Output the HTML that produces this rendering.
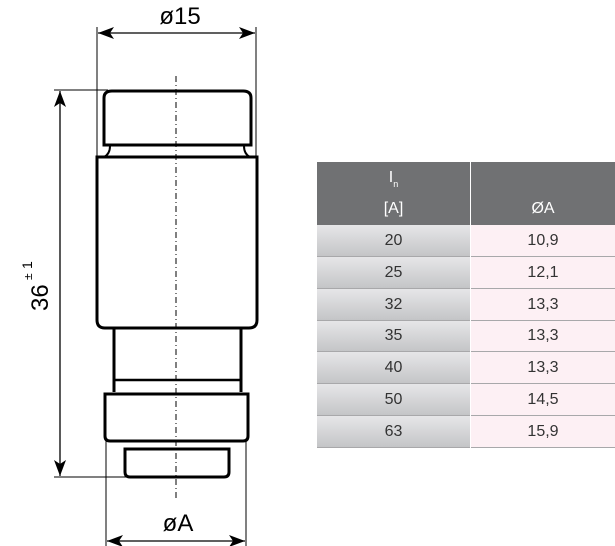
<!DOCTYPE html>
<html><head><style>
html,body{margin:0;padding:0;background:#fff;}
body{width:615px;height:546px;position:relative;overflow:hidden;font-family:"Liberation Sans","DejaVu Sans",sans-serif;}
svg{position:absolute;left:0;top:0;}
.c{position:absolute;box-sizing:border-box;text-align:center;font-family:"Liberation Sans Narrow","Liberation Sans",sans-serif;font-size:16px;color:#333;}
.h{background:#707173;color:#fff;}
.l{left:317px;width:153px;background:linear-gradient(#e6e6e8,#c4c5c7);border-bottom:1px solid #a8a8aa;}
.r{left:471px;width:144px;background:#fdf0f4;border-bottom:1px solid #a8a8aa;}
</style></head><body>
<svg width="615" height="546" viewBox="0 0 615 546">
<defs>
<marker id="a" markerWidth="16" markerHeight="12" refX="16" refY="6" orient="auto-start-reverse" markerUnits="userSpaceOnUse"><path d="M0,0 L16,6 L0,12 L4,6z" fill="#000"/></marker>
</defs>
<g stroke="#000" fill="none">
<line x1="97" y1="27" x2="97" y2="158" stroke-width="1"/>
<line x1="256" y1="27" x2="256" y2="158" stroke-width="1"/>
<line x1="98" y1="33" x2="255" y2="33" stroke-width="1.3" marker-start="url(#a)" marker-end="url(#a)"/>
<line x1="54" y1="90" x2="108" y2="90" stroke-width="1"/>
<line x1="54" y1="477" x2="126" y2="477" stroke-width="1"/>
<line x1="60" y1="91" x2="60" y2="476" stroke-width="1.3" marker-start="url(#a)" marker-end="url(#a)"/>
<line x1="106" y1="440" x2="106" y2="546" stroke-width="1"/>
<line x1="246" y1="440" x2="246" y2="546" stroke-width="1"/>
<line x1="107" y1="541" x2="245" y2="541" stroke-width="1.3" marker-start="url(#a)" marker-end="url(#a)"/>
<line x1="176" y1="76" x2="176" y2="500" stroke-width="1" stroke-dasharray="6,3,1,3"/>
<path d="M104,145 L104,98 Q104,91 112,91 L243,91 Q251,91 251,98 L251,145 Z" stroke-width="3"/>
<path d="M110,146 Q110,154 104,157 M244,146 Q244,154 250,157" stroke-width="2"/>
<path d="M97,157 L257,157 L257,320 Q257,328 249,328 L105,328 Q97,328 97,320 Z" stroke-width="3"/>
<path d="M114,329 L114,392 M241,329 L241,392" stroke-width="3"/>
<line x1="114" y1="380" x2="241" y2="380" stroke-width="2.5"/>
<path d="M105,394 L248,394 L248,436 Q248,441 243,441 L110,441 Q105,441 105,436 Z" stroke-width="3"/>
<line x1="132" y1="441" x2="225" y2="441" stroke-width="2"/>
<path d="M125,449 L229,449 L229,472 Q229,477 224,477 L130,477 Q125,477 125,472 Z" stroke-width="3"/>
</g>
<text x="180" y="24" font-size="24" text-anchor="middle" font-family="Liberation Sans,sans-serif">ø15</text>
<text x="178" y="531" font-size="24" text-anchor="middle" font-family="Liberation Sans,sans-serif">øA</text>
<g transform="translate(48,311) rotate(-90)">
<text x="0" y="0" font-size="24" font-family="Liberation Sans,sans-serif">36</text>
<text x="31" y="-16" font-size="12" font-family="Liberation Sans,sans-serif">±</text>
<text x="42" y="-16" font-size="14" font-family="Liberation Sans,sans-serif">1</text>
</g>
</svg>
<div class="c h" style="left:317px;top:162px;width:153px;height:63px;">
<div style="position:absolute;left:0;right:0;top:8px;line-height:16px;">I<span style="font-size:9px;vertical-align:-5px">n</span></div>
<div style="position:absolute;left:0;right:0;top:38px;line-height:18px;">[A]</div>
</div>
<div class="c h" style="left:471px;top:162px;width:144px;height:63px;"><div style="position:absolute;left:0;right:0;top:38px;line-height:18px;">ØA</div></div>
<div class="c l" style="top:225px;height:32px;line-height:31px;">20</div><div class="c r" style="top:225px;height:32px;line-height:31px;">10,9</div>
<div class="c l" style="top:257px;height:32px;line-height:31px;">25</div><div class="c r" style="top:257px;height:32px;line-height:31px;">12,1</div>
<div class="c l" style="top:289px;height:32px;line-height:31px;">32</div><div class="c r" style="top:289px;height:32px;line-height:31px;">13,3</div>
<div class="c l" style="top:321px;height:31px;line-height:30px;">35</div><div class="c r" style="top:321px;height:31px;line-height:30px;">13,3</div>
<div class="c l" style="top:352px;height:32px;line-height:31px;">40</div><div class="c r" style="top:352px;height:32px;line-height:31px;">13,3</div>
<div class="c l" style="top:384px;height:32px;line-height:31px;">50</div><div class="c r" style="top:384px;height:32px;line-height:31px;">14,5</div>
<div class="c l" style="top:416px;height:32px;line-height:31px;">63</div><div class="c r" style="top:416px;height:32px;line-height:31px;">15,9</div>
</body></html>
